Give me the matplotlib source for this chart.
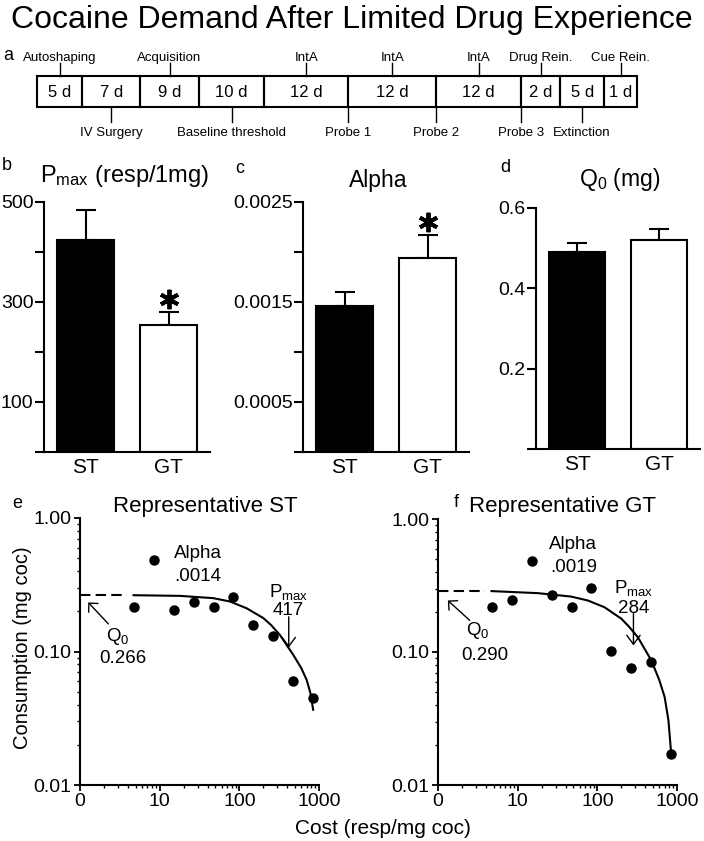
import numpy as np
import matplotlib
matplotlib.use('Agg')
import matplotlib.pyplot as plt
from matplotlib.patches import Rectangle
from matplotlib.ticker import NullFormatter
from matplotlib.transforms import ScaledTranslation

'''data read off the figure'''
# timeline (panel a)
phase_days = [5, 7, 9, 10, 12, 12, 12, 2, 5, 1]
above_labels = {0: 'Autoshaping', 2: 'Acquisition', 4: 'IntA', 5: 'IntA',
                6: 'IntA', 7: 'Drug Rein.', 9: 'Cue Rein.'}
below_labels = {1: 'IV Surgery', 3: 'Baseline threshold', 8: 'Extinction'}
probe_labels = {5: 'Probe 1', 6: 'Probe 2', 7: 'Probe 3'}   # at left edge of phase

# bar panels b-d
groups = ['ST', 'GT']
pmax_mean = [424, 254]
pmax_sem = [61, 27]
alpha_mean = [0.00146, 0.00194]
alpha_sem = [0.00014, 0.00023]
q0_mean = [0.49, 0.52]
q0_sem = [0.024, 0.027]

# demand curves e-f
cost = [4.7, 8.4, 15, 26.7, 47.5, 84.4, 150, 267, 475, 845]
st_consumption = [0.217, 0.486, 0.205, 0.233, 0.217, 0.256, 0.157, 0.131, 0.0606, 0.045]
gt_consumption = [0.217, 0.244, 0.481, 0.27, 0.217, 0.304, 0.102, 0.0764, 0.084, 0.017]

fit_cost = [4.7, 18, 47, 76, 123, 200, 250, 323, 475, 600, 699, 780, 845]
st_fit = [0.264, 0.261, 0.251, 0.237, 0.211, 0.178, 0.158, 0.133, 0.0944, 0.075,
          0.0614, 0.049, 0.0366]
gt_fit = [0.287, 0.277, 0.261, 0.244, 0.217, 0.178, 0.155, 0.129, 0.0867, 0.0614,
          0.046, 0.0308, 0.0173]

st_q0, st_alpha, st_pmax = 0.266, '.0014', 417
gt_q0, gt_alpha, gt_pmax = 0.290, '.0019', 284

'''layout'''
W, H = 704, 841
plt.rcParams['font.family'] = ['Liberation Sans', 'DejaVu Sans']
plt.rcParams['mathtext.fontset'] = 'custom'
plt.rcParams['mathtext.rm'] = 'Liberation Sans'
plt.rcParams['mathtext.it'] = 'Liberation Sans:italic'
plt.rcParams['axes.linewidth'] = 1.5

fig = plt.figure(figsize=(W / 100, H / 100), dpi=100)


def rect(l, t, r, b):
    return [l / W, 1 - b / H, (r - l) / W, (b - t) / H]


def ftxt(px, py, s, **kw):
    kw.setdefault('ha', 'center')
    kw.setdefault('va', 'baseline')
    fig.text(px / W, 1 - py / H, s, **kw)


ftxt(352, 28, 'Cocaine Demand After Limited Drug Experience', fontsize=23)

# panel letters
for s, px, py in [('a', 8, 60), ('b', 7, 170), ('c', 240, 173), ('d', 505, 172),
                  ('e', 17, 508), ('f', 456, 507)]:
    ftxt(px, py, s, fontsize=13)

'''panel a: timeline'''
box_w = [45.6, 57.7, 59, 65.3, 84, 87.7, 85, 39, 44.3, 33]  # drawn widths (px)
axa = fig.add_axes(rect(36.7, 75.7, 637.3, 107.3))
axa.set_xlim(0, sum(box_w))
axa.set_ylim(0, 1)
axa.axis('off')
left = 0
for i, d in enumerate(phase_days):
    axa.add_patch(Rectangle((left, 0), box_w[i], 1, fill=False, lw=1.5,
                            edgecolor='black', clip_on=False))
    mid = left + box_w[i] / 2
    axa.text(mid, 0.47, f'{d} d', ha='center', va='center', fontsize=12)
    if i in above_labels:
        axa.plot([mid, mid], [1, 1.4], color='black', lw=1, clip_on=False)
        axa.text(mid, 1.55, above_labels[i], ha='center', va='center', fontsize=9.5)
    if i in below_labels:
        axa.plot([mid, mid], [0, -0.47], color='black', lw=1, clip_on=False)
        axa.text(mid, -0.82, below_labels[i], ha='center', va='center', fontsize=9.5)
    if i in probe_labels:
        axa.plot([left, left], [0, -0.47], color='black', lw=1, clip_on=False)
        axa.text(left, -0.82, probe_labels[i], ha='center', va='center', fontsize=9.5)
    left += box_w[i]

'''panels b-d: bars'''


def bar_panel(r, means, sems, ticks, ticklabels, top, star):
    ax = fig.add_axes(rect(*r))
    x = np.arange(len(groups))
    ax.bar(x, means, width=0.68, color=['black', 'white'], edgecolor='black',
           linewidth=1.5, zorder=2)
    ax.errorbar(x, means, yerr=[[0] * len(sems), sems], fmt='none', ecolor='black',
                elinewidth=1.5, capsize=7.2, capthick=1.5, zorder=1)
    ax.set_xlim(-0.5, 1.5)
    ax.set_ylim(0, top)
    ax.set_yticks(ticks)
    ax.set_yticklabels(ticklabels)
    ax.set_xticks(x)
    ax.set_xticklabels(groups)
    for sp in ['top', 'right']:
        ax.spines[sp].set_visible(False)
    ax.tick_params(axis='y', direction='out', length=6.5, width=1.5, labelsize=14, pad=1)
    ax.tick_params(axis='x', length=0, labelsize=15, pad=4)
    if star:
        off = ax.transData + ScaledTranslation(0, 13 / 100, fig.dpi_scale_trans)
        ax.plot([1], [means[1] + sems[1]], marker=(6, 2, 0), markersize=14,
                mew=2.8, color='black', transform=off, clip_on=False)
    return ax


bar_panel((44, 202, 210, 452), pmax_mean, pmax_sem,
          [0, 100, 200, 300, 400, 500], ['', '100', '', '300', '', '500'], 500, True)
bar_panel((303, 202, 469, 452), alpha_mean, alpha_sem,
          [0, 0.0005, 0.001, 0.0015, 0.002, 0.0025],
          ['', '0.0005', '', '0.0015', '', '0.0025'], 0.0025, True)
bar_panel((536, 208, 700, 449), q0_mean, q0_sem,
          [0, 0.2, 0.4, 0.6], ['', '0.2', '0.4', '0.6'], 0.6, False)

ftxt(125, 182, r'P$_{\mathrm{max}}$ (resp/1mg)', fontsize=17)
ftxt(378.5, 186.5, 'Alpha', fontsize=16.5)
ftxt(620, 186, r'Q$_0$ (mg)', fontsize=16.5)

'''panels e-f: demand curves'''


def demand_panel(r, cons, fit, q0, alpha, pmax, pos):
    ax = fig.add_axes(rect(*r))
    ax.set_xscale('log')
    ax.set_yscale('log')
    ax.plot([1, 3.9], [q0, q0], color='black', lw=1.5, ls=(0, (5, 2.5)))
    ax.plot(fit_cost, fit, color='black', lw=1.5)
    ax.plot(cost, cons, 'o', color='black', markersize=6.5, clip_on=False)
    ax.set_xlim(1, 1000)
    ax.set_ylim(0.01, 1)
    ax.set_xticks([1, 10, 100, 1000])
    ax.set_xticklabels(['0', '10', '100', '1000'])
    ax.set_yticks([0.01, 0.1, 1])
    ax.set_yticklabels(['0.01', '0.10', '1.00'])
    ax.xaxis.set_minor_formatter(NullFormatter())
    ax.yaxis.set_minor_formatter(NullFormatter())
    for sp in ['top', 'right']:
        ax.spines[sp].set_visible(False)
    ax.tick_params(which='major', direction='out', length=4.5, width=1.3, labelsize=14, pad=1.5)
    ax.tick_params(which='minor', direction='out', length=2.5, width=1.0)

    kw = dict(ha='center', va='baseline', fontsize=13.5)
    # Q0
    ax.annotate('', xy=pos['q0_tip'], xytext=pos['q0_tail'],
                arrowprops=dict(arrowstyle='->,head_length=0.46,head_width=0.46',
                                lw=1, color='black', shrinkA=0, shrinkB=0))
    ax.text(*pos['q0_lbl'], r'Q$_0$', **kw)
    ax.text(*pos['q0_val'], f'{q0:.3f}', **kw)
    # alpha
    ax.text(*pos['alpha_lbl'], 'Alpha', **kw)
    ax.text(*pos['alpha_val'], alpha, **kw)
    # Pmax
    ax.annotate('', xy=(pmax, pos['pmax_tip']), xytext=(pmax, pos['pmax_tail']),
                arrowprops=dict(arrowstyle='->,head_length=0.65,head_width=0.48',
                                lw=1, color='black', shrinkA=0, shrinkB=0))
    ax.text(pmax, pos['pmax_lbl'], r'P$_{\mathrm{max}}$', **kw)
    ax.text(pmax, pos['pmax_val'], str(pmax), **kw)
    return ax


demand_panel((80, 518, 319, 785), st_consumption, st_fit, st_q0, st_alpha, st_pmax,
             dict(q0_tip=(1.27, 0.233), q0_tail=(2.27, 0.161), q0_lbl=(3.02, 0.1203),
                  q0_val=(3.5, 0.0823), alpha_lbl=(30.5, 0.504), alpha_val=(30.5, 0.335),
                  pmax_tip=0.107, pmax_tail=0.182, pmax_lbl=0.257, pmax_val=0.188))
demand_panel((438, 519, 677, 785), gt_consumption, gt_fit, gt_q0, gt_alpha, gt_pmax,
             dict(q0_tip=(1.33, 0.244), q0_tail=(2.5, 0.173), q0_lbl=(3.18, 0.1334),
                  q0_val=(3.85, 0.0867), alpha_lbl=(49.9, 0.598), alpha_val=(49.9, 0.397),
                  pmax_tip=0.112, pmax_tail=0.195, pmax_lbl=0.28, pmax_val=0.198))

ftxt(205, 511.7, 'Representative ST', fontsize=16)
ftxt(562.5, 511.7, 'Representative GT', fontsize=16)
ftxt(22.5, 648, 'Consumption (mg coc)', fontsize=14.5, rotation=90, va='center')
ftxt(383, 829, 'Cost (resp/mg coc)', fontsize=15, va='center')

fig.savefig('out.png', dpi=100)
